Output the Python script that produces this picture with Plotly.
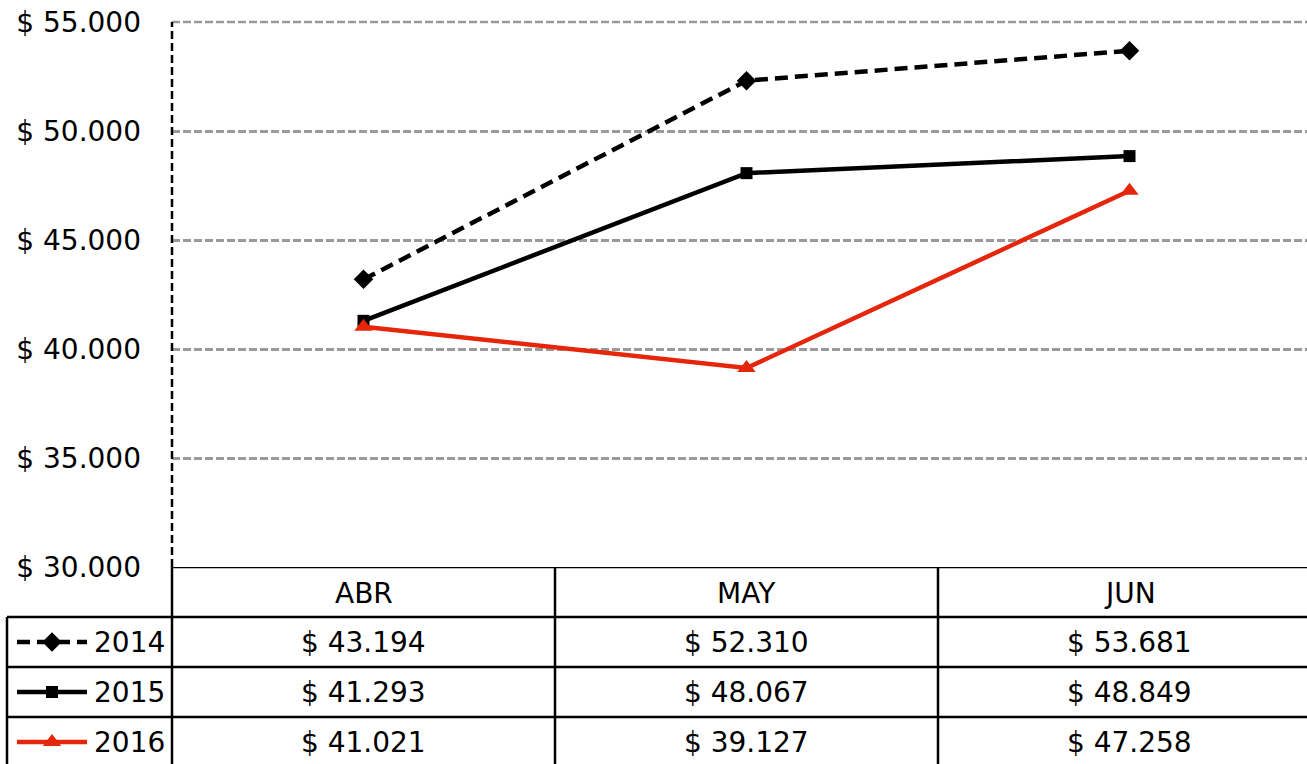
import plotly.graph_objects as go

# ---------------- data ----------------
months = ["ABR", "MAY", "JUN"]
years = ["2014", "2015", "2016"]
values_2014 = [43194, 52310, 53681]
values_2015 = [41293, 48067, 48849]
values_2016 = [41021, 39127, 47258]
y_ticks = [30000, 35000, 40000, 45000, 50000, 55000]

series = [values_2014, values_2015, values_2016]


def money(v):
    return "$ " + f"{v:,}".replace(",", ".")


# ---------------- layout constants ----------------
W, H = 1307, 764
PLOT_LEFT, PLOT_TOP, PLOT_BOTTOM = 172, 22, 567
COL_W = 383
ROW_H = 50
FONT = "DejaVu Sans"
FS = 28
RED = "#E5260B"
LW = 4.5
GRID_COLOR = "#9a9a9a"

styles = {
    "2014": dict(color="black", dash="13px,7px", symbol="diamond", size=15),
    "2015": dict(color="black", dash="solid", symbol="square", size=12),
    "2016": dict(color=RED, dash="solid", symbol="triangle-up", size=16),
}

fig = go.Figure()

# main lines
for yr, vals in zip(years, series):
    st = styles[yr]
    fig.add_trace(go.Scatter(
        x=list(range(len(months))), y=vals, mode="lines+markers",
        line=dict(color=st["color"], width=LW, dash=st["dash"]),
        marker=dict(symbol=st["symbol"], size=st["size"], color=st["color"]),
        xaxis="x", yaxis="y", showlegend=False, cliponaxis=False,
        hoverinfo="skip"))

# legend samples inside the data table (table uses pixel-like x2 / row-unit y2)
for r, yr in enumerate(years, start=1):
    st = styles[yr]
    yc = r + 0.5
    fig.add_trace(go.Scatter(
        x=[17, 87], y=[yc, yc], mode="lines",
        line=dict(color=st["color"], width=LW, dash=st["dash"]),
        xaxis="x2", yaxis="y2", showlegend=False, hoverinfo="skip"))
    fig.add_trace(go.Scatter(
        x=[52], y=[yc], mode="markers",
        marker=dict(symbol=st["symbol"], size=st["size"], color=st["color"]),
        xaxis="x2", yaxis="y2", showlegend=False, hoverinfo="skip"))

shapes = []
annotations = []

# top gridline (plotly hides the gridline on the plot edge)
shapes.append(dict(type="line", xref="paper", yref="paper",
                   x0=PLOT_LEFT / W, x1=1,
                   y0=(H - PLOT_TOP) / H, y1=(H - PLOT_TOP) / H,
                   layer="below",
                   line=dict(color=GRID_COLOR, width=2.5, dash="8px,3px")))

# dashed vertical value axis
shapes.append(dict(type="line", xref="paper", yref="paper",
                   x0=PLOT_LEFT / W, x1=PLOT_LEFT / W,
                   y0=(H - PLOT_BOTTOM) / H, y1=(H - PLOT_TOP) / H,
                   line=dict(color="black", width=2.5, dash="8px,4px")))

table_bottom = (H - PLOT_BOTTOM) / ROW_H
line_style = dict(color="black", width=2.5)


def boundary_px(i):
    # left edge of category column i
    return PLOT_LEFT + i * COL_W


# header top border
shapes.append(dict(type="line", xref="x2", yref="y2", x0=PLOT_LEFT, x1=W,
                   y0=0, y1=0, line=line_style))
# row borders
for r in range(1, len(years) + 1):
    shapes.append(dict(type="line", xref="x2", yref="y2", x0=7, x1=W,
                       y0=r, y1=r, line=line_style))
# vertical borders
for i in range(len(months)):
    shapes.append(dict(type="line", xref="x2", yref="y2",
                       x0=boundary_px(i), x1=boundary_px(i),
                       y0=0, y1=table_bottom, line=line_style))
shapes.append(dict(type="line", xref="x2", yref="y2", x0=7, x1=7,
                   y0=1, y1=table_bottom, line=line_style))

# header text
for i, m in enumerate(months):
    annotations.append(dict(text=m, xref="x", yref="y2", x=i, y=0.52,
                            showarrow=False, font=dict(family=FONT, size=FS, color="black")))
# values + year labels
for r, (yr, vals) in enumerate(zip(years, series), start=1):
    annotations.append(dict(text=yr, xref="x2", yref="y2", x=92, y=r + 0.5,
                            xanchor="left", showarrow=False,
                            font=dict(family=FONT, size=FS, color="black")))
    for i, v in enumerate(vals):
        annotations.append(dict(text=money(v), xref="x", yref="y2", x=i, y=r + 0.5,
                                showarrow=False,
                                font=dict(family=FONT, size=FS, color="black")))

fig.update_layout(
    width=W, height=H, autosize=False,
    margin=dict(l=0, r=0, t=0, b=0),
    paper_bgcolor="white", plot_bgcolor="white",
    font=dict(family=FONT, size=FS, color="black"),
    showlegend=False,
    xaxis=dict(domain=[PLOT_LEFT / W, 1], anchor="y",
               range=[-0.5, -0.5 + (W - PLOT_LEFT) / COL_W],
               showticklabels=False, showgrid=False, zeroline=False,
               showline=False, ticks="", fixedrange=True),
    yaxis=dict(domain=[(H - PLOT_BOTTOM) / H, (H - PLOT_TOP) / H], anchor="x",
               range=[30000, 55000], tickvals=y_ticks,
               ticktext=[money(v) for v in y_ticks],
               tickfont=dict(family=FONT, size=FS, color="black"),
               showgrid=True, gridcolor=GRID_COLOR, gridwidth=2.5, griddash="8px,3px",
               zeroline=False, showline=False, ticks="", ticklabelstandoff=30,
               automargin=False, fixedrange=True),
    xaxis2=dict(domain=[0, 1], anchor="y2", range=[0, W], visible=False,
                fixedrange=True),
    yaxis2=dict(domain=[0, (H - PLOT_BOTTOM) / H], anchor="x2",
                range=[table_bottom, 0], visible=False, fixedrange=True),
    shapes=shapes,
    annotations=annotations,
)

fig.write_html("out.html", config={"displayModeBar": False},
               post_script="document.body.style.margin='0';document.body.style.overflow='hidden';")
